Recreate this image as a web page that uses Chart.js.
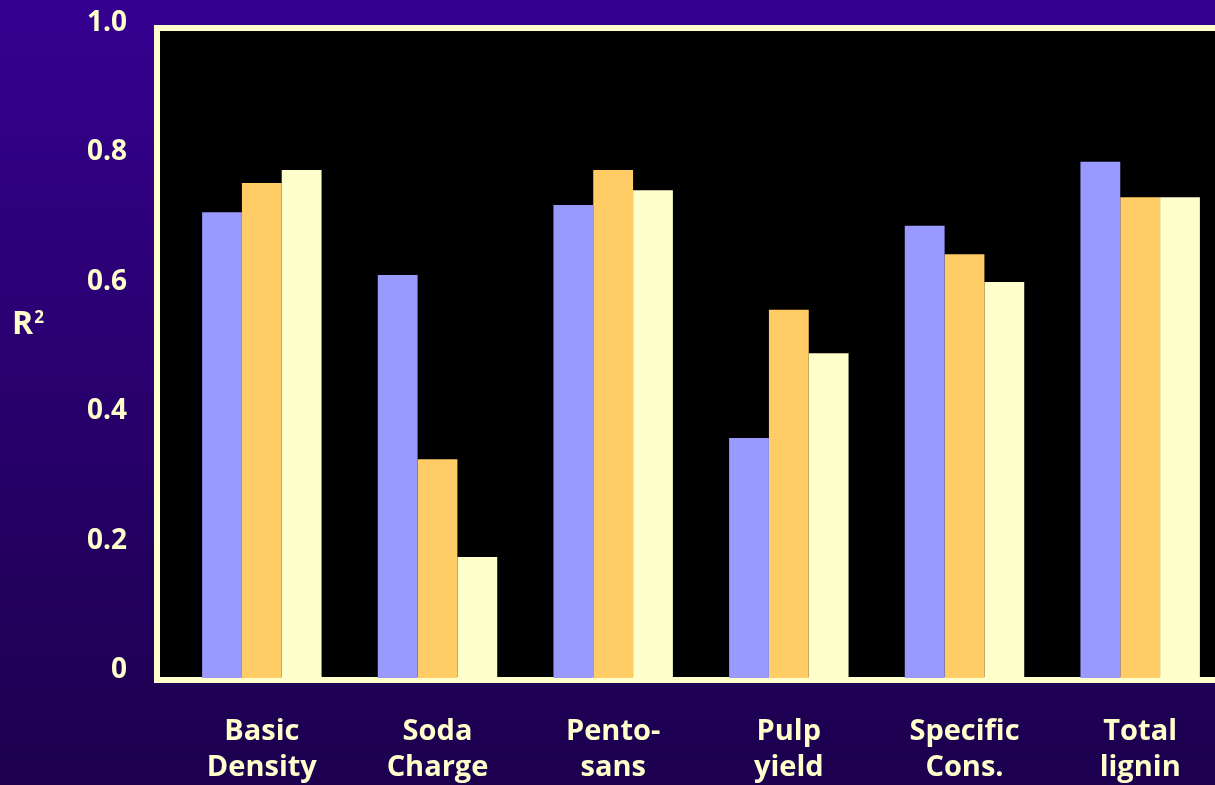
<!DOCTYPE html>
<html>
<head>
	<title>R2 by property</title>
	<script src="https://cdn.jsdelivr.net/npm/chart.js@4.4.1/dist/chart.umd.min.js"></script>
	<style>
		html, body {
			margin: 0;
			padding: 0;
			width: 1215px;
			height: 785px;
			overflow: hidden;
			background: linear-gradient(to bottom, #350091 0%, #2a0070 45%, #1c004e 100%);
		}
		#wrap {
			position: absolute;
			left: 0;
			top: 0;
			width: 1240px;
			height: 785px;
		}
	</style>
</head>
<body>
	<div id="wrap"><canvas id="myChart"></canvas></div>
	<script>
		const categories = [
			["Basic", "Density"],
			["Soda", "Charge"],
			["Pento-", "sans"],
			["Pulp", "yield"],
			["Specific", "Cons."],
			["Total", "lignin"]
		];
		const series1 = [0.720, 0.623, 0.731, 0.371, 0.699, 0.798];
		const series2 = [0.765, 0.338, 0.785, 0.569, 0.655, 0.743];
		const series3 = [0.785, 0.187, 0.754, 0.502, 0.612, 0.743];
		const yTickLabels = ["0", "0.2", "0.4", "0.6", "0.8", "1.0"];

		const CREAM = "#FFFFCC";
		const FONT = "'Open Sans', 'DejaVu Sans', sans-serif";

		// black plot panel with a cream frame on the left, top and bottom
		const plotFrame = {
			id: "plotFrame",
			beforeDatasetsDraw(chart) {
				const { ctx, chartArea: a, width } = chart;
				const left = a.left - 14;
				ctx.save();
				ctx.fillStyle = CREAM;
				ctx.fillRect(left - 6, a.top - 6, width - left + 6, a.bottom - a.top + 11);
				ctx.fillStyle = "#000";
				ctx.fillRect(left, a.top, width - left, a.bottom - a.top - 1);
				ctx.restore();
			},
			afterDraw(chart) {
				// axis caption R²
				const ctx = chart.ctx;
				ctx.save();
				ctx.fillStyle = CREAM;
				ctx.textBaseline = "alphabetic";
				ctx.textAlign = "left";
				ctx.font = "bold 32px " + FONT;
				ctx.fillText("R", 12, 334);
				const w = ctx.measureText("R").width;
				ctx.font = "bold 17px " + FONT;
				ctx.fillText("2", 12 + w + 1, 323);
				ctx.restore();
			}
		};

		new Chart("myChart", {
			type: "bar",
			data: {
				labels: categories,
				datasets: [
					{ data: series1, backgroundColor: "#9999FF" },
					{ data: series2, backgroundColor: "#FFCC66" },
					{ data: series3, backgroundColor: CREAM }
				]
			},
			options: {
				responsive: true,
				maintainAspectRatio: false,
				animation: false,
				layout: { padding: { top: 31, right: 12, bottom: 0, left: 0 } },
				datasets: {
					bar: { barPercentage: 1.0, categoryPercentage: 0.68 }
				},
				plugins: {
					legend: { display: false },
					tooltip: { enabled: false }
				},
				scales: {
					x: {
						grid: { display: false, drawTicks: false },
						border: { display: false },
						ticks: {
							color: CREAM,
							font: { family: FONT, size: 29, weight: "bold", lineHeight: 1.24 },
							padding: 36,
							maxRotation: 0,
							autoSkip: false
						},
						afterFit(scale) {
							scale.height = 107;
							scale.paddingLeft = 0;
							scale.paddingRight = 0;
						}
					},
					y: {
						min: 0,
						max: 1,
						grid: { display: false, drawTicks: false },
						border: { display: false },
						ticks: {
							stepSize: 0.2,
							color: CREAM,
							font: { family: FONT, size: 28, weight: "bold" },
							padding: 47,
							labelOffset: -8,
							callback: (v, i) => yTickLabels[i]
						},
						afterFit(scale) {
							scale.width = 174;
							scale.paddingTop = 0;
							scale.paddingBottom = 0;
						}
					}
				}
			},
			plugins: [plotFrame]
		});
	</script>
</body>
</html>
